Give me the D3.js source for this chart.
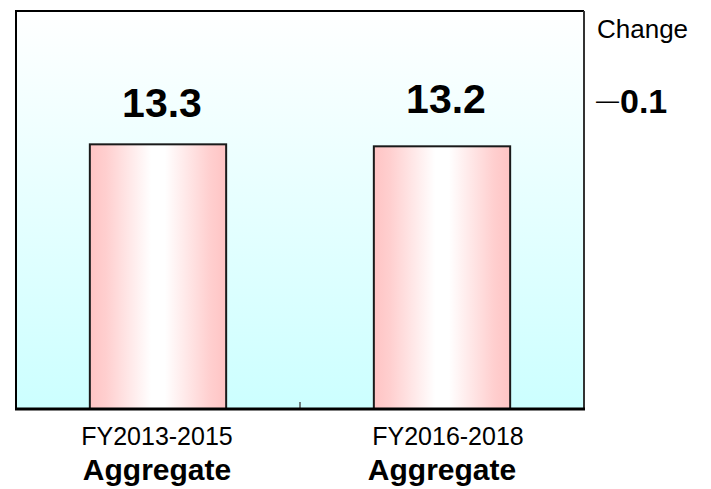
<!DOCTYPE html>
<html>
<head>
<meta charset="utf-8">
<script src="https://cdn.jsdelivr.net/npm/d3@7"></script>
<style>
  html, body { margin: 0; padding: 0; background: #ffffff; }
  svg { display: block; }
  text { font-family: "Liberation Sans", Arial, Helvetica, sans-serif; fill: #000; }
</style>
</head>
<body>
<svg id="chart" width="711" height="489"></svg>
<script>
// Chart data
const periods = ["FY2013-2015", "FY2016-2018"];
const groupLabels = ["Aggregate", "Aggregate"];
const values = [13.3, 13.2];
const changeTitle = "Change";
const changeValue = -0.1;

const svg = d3.select("#chart");
const plot = { left: 16, top: 11, right: 584, bottom: 409 };

const defs = svg.append("defs");

// Plot background: white fading to pale cyan towards the baseline
const bg = defs.append("linearGradient")
  .attr("id", "bgGrad").attr("x1", 0).attr("y1", 0).attr("x2", 0).attr("y2", 1);
bg.append("stop").attr("offset", "0%").attr("stop-color", "#ffffff");
bg.append("stop").attr("offset", "100%").attr("stop-color", "#ccffff");

// Bar fill: pink at the edges, white in the middle
const barGrad = defs.append("linearGradient")
  .attr("id", "barGrad").attr("x1", 0).attr("y1", 0).attr("x2", 1).attr("y2", 0);
[[0, "#ffc4c4"], [0.12, "#ffcfcf"], [0.45, "#ffffff"], [0.55, "#ffffff"], [0.88, "#ffcfcf"], [1, "#ffc4c4"]]
  .forEach(([o, c]) => barGrad.append("stop").attr("offset", o).attr("stop-color", c));

const x = d3.scaleBand()
  .domain(periods)
  .range([plot.left, plot.right])
  .paddingInner(0.52)
  .paddingOuter(0.26);

const y = d3.scaleLinear()
  .domain([0, 20])
  .range([plot.bottom, plot.top]);

// Background
svg.append("rect")
  .attr("x", plot.left).attr("y", plot.top)
  .attr("width", plot.right - plot.left).attr("height", plot.bottom - plot.top)
  .attr("fill", "url(#bgGrad)");

// Bars
svg.append("g").selectAll("rect")
  .data(values)
  .join("rect")
  .attr("x", (d, i) => x(periods[i]))
  .attr("y", d => y(d))
  .attr("width", x.bandwidth())
  .attr("height", d => y(0) - y(d))
  .attr("fill", "url(#barGrad)")
  .attr("stroke", "#1a1a1a")
  .attr("stroke-width", 2);

// Divider tick between the two periods
const boundary = (x(periods[0]) + x.bandwidth() + x(periods[1])) / 2;
svg.append("line")
  .attr("x1", boundary).attr("x2", boundary)
  .attr("y1", plot.bottom - 7).attr("y2", plot.bottom)
  .attr("stroke", "#6f7f80").attr("stroke-width", 2);

// Frame
svg.append("path")
  .attr("d", `M${plot.left},${plot.bottom}V${plot.top}H${plot.right}`)
  .attr("fill", "none").attr("stroke", "#000").attr("stroke-width", 2);
svg.append("line")
  .attr("x1", plot.right).attr("x2", plot.right)
  .attr("y1", plot.top).attr("y2", plot.bottom)
  .attr("stroke", "#333").attr("stroke-width", 2);
svg.append("line")
  .attr("x1", plot.left - 1).attr("x2", plot.right + 1)
  .attr("y1", plot.bottom).attr("y2", plot.bottom)
  .attr("stroke", "#000").attr("stroke-width", 3);

const center = p => x(p) + x.bandwidth() / 2;

// Value labels above the bars
const valueDx = [4, 4];
const valueDy = [-27, -33];
svg.append("g").selectAll("text")
  .data(values)
  .join("text")
  .attr("x", (d, i) => center(periods[i]) + valueDx[i])
  .attr("y", (d, i) => y(d) + valueDy[i])
  .attr("text-anchor", "middle")
  .attr("font-size", 41)
  .attr("font-weight", "bold")
  .text(d => d.toFixed(1));

// Category labels
const periodDx = [-1, 6];
svg.append("g").selectAll("text")
  .data(periods)
  .join("text")
  .attr("x", (d, i) => center(d) + periodDx[i])
  .attr("y", 445)
  .attr("text-anchor", "middle")
  .attr("font-size", 25)
  .text(d => d);

const groupDx = [-1, 0];
svg.append("g").selectAll("text")
  .data(groupLabels)
  .join("text")
  .attr("x", (d, i) => center(periods[i]) + groupDx[i])
  .attr("y", 480)
  .attr("text-anchor", "middle")
  .attr("font-size", 30)
  .attr("font-weight", "bold")
  .text(d => d);

// Change annotation on the right
svg.append("text")
  .attr("x", 597).attr("y", 38)
  .attr("font-size", 26)
  .text(changeTitle);

const changeText = svg.append("text")
  .attr("x", 596).attr("y", 113);
changeText.append("tspan")
  .attr("font-size", 23)
  .attr("dy", -5)
  .text(changeValue < 0 ? "\u2014" : "+");
changeText.append("tspan")
  .attr("font-size", 34)
  .attr("font-weight", "bold")
  .attr("dx", 1)
  .attr("dy", 5)
  .text(Math.abs(changeValue).toFixed(1));
</script>
</body>
</html>
